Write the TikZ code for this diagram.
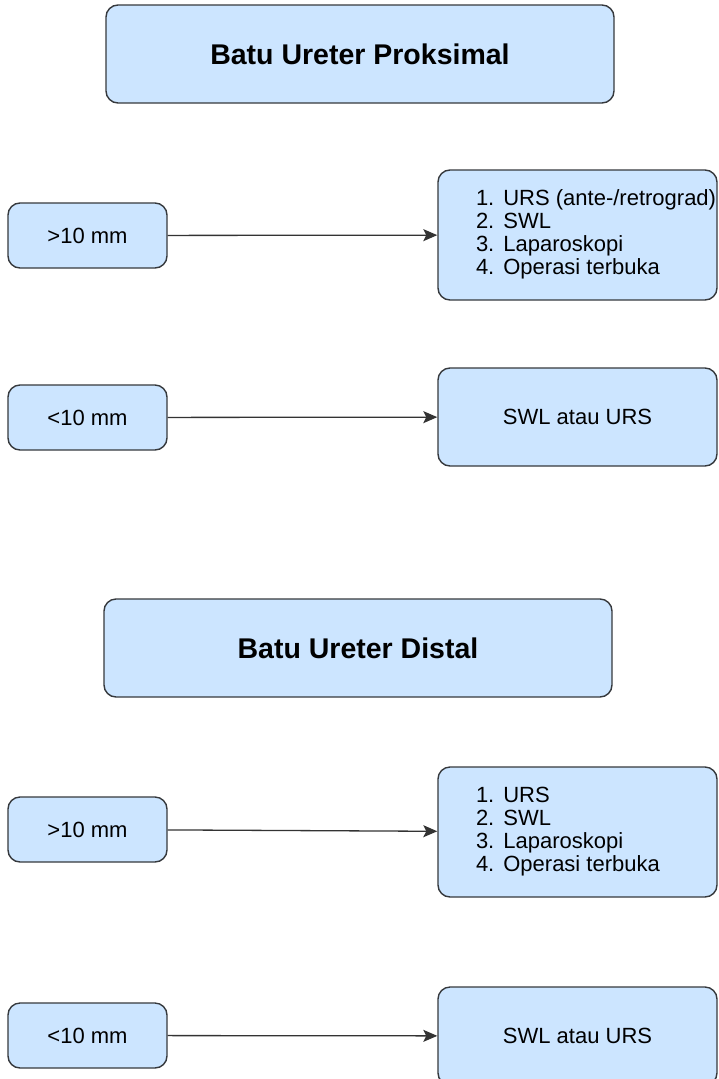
\documentclass[tikz,border=0pt]{standalone}
\usepackage{fontspec}
\setmainfont{Liberation Sans}
\usetikzlibrary{arrows.meta}
\definecolor{boxfill}{HTML}{CCE5FF}
\definecolor{boxline}{HTML}{36393D}
\definecolor{arrowline}{HTML}{333333}
\newcommand{\terapi}[1]{\makebox[203pt][l]{\begin{tabular}{@{}l@{\hspace{9pt}}l@{}}#1\end{tabular}}}

\begin{document}
\begin{tikzpicture}[x=1pt,y=-1pt]
\useasboundingbox (0,0) rectangle (718,1079);
\begin{scope}[every node/.style={draw=boxline,fill=boxfill,line width=1.4pt,rounded corners=12pt,
              inner sep=0pt,font=\fontsize{22}{23}\selectfont}]
    \node[minimum width=508pt,minimum height=98pt,font=\fontsize{28.5}{30}\selectfont\bfseries] (t1) at (360,54) {Batu Ureter Proksimal};
    \node[minimum width=159pt,minimum height=65pt] (g1) at (87.5,235.5) {>10 mm};
    \node[minimum height=130pt,inner xsep=38pt] (l1) at (577.5,235) {\terapi{1.&URS (ante-/retrograd)\\2.&SWL\\3.&Laparoskopi\\4.&Operasi terbuka}};
    \node[minimum width=159pt,minimum height=65pt] (k1) at (87.5,417.5) {<10 mm};
    \node[minimum width=279pt,minimum height=98pt] (s1) at (577.5,417) {SWL atau URS};
    \node[minimum width=508pt,minimum height=98pt,font=\fontsize{28.5}{30}\selectfont\bfseries] (t2) at (358,648) {Batu Ureter Distal};
    \node[minimum width=159pt,minimum height=65pt] (g2) at (87.5,829.5) {>10 mm};
    \node[minimum height=130pt,inner xsep=38pt] (l2) at (577.5,832) {\terapi{1.&URS\\2.&SWL\\3.&Laparoskopi\\4.&Operasi terbuka}};
    \node[minimum width=159pt,minimum height=65pt] (k2) at (87.5,1035.5) {<10 mm};
    \node[minimum width=279pt,minimum height=98pt] (s2) at (577.5,1036) {SWL atau URS};
\end{scope}

\begin{scope}[every edge/.style={draw=arrowline,line width=1.3pt,-{Stealth[length=14pt,width=12pt,inset=3pt]}}]
    \path (g1) edge (l1);
    \path (k1) edge (s1);
    \path (g2) edge (l2);
    \path (k2) edge (s2);
\end{scope}
\end{tikzpicture}
\end{document}
